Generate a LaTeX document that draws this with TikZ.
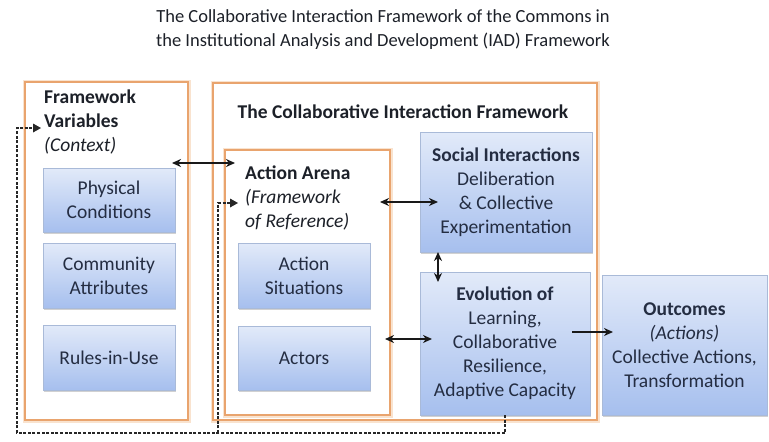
\documentclass[tikz,border=0pt]{standalone}
\usepackage{fontspec}
\setmainfont{Carlito}
\usetikzlibrary{arrows.meta,calc}
\definecolor{orline}{HTML}{E9A46E}
\definecolor{orglow}{HTML}{F9E3CF}
\definecolor{bltop}{HTML}{E2EAF9}
\definecolor{blbot}{HTML}{A6BFEE}
\definecolor{blline}{HTML}{A9BAD8}
\definecolor{txt}{HTML}{1C2028}
\definecolor{btxt}{HTML}{242D42}
\tikzset{
  x=1pt,y=-1pt,
  orbox/.style={draw=orline,line width=1.4pt,fill=white,inner sep=0pt,
    preaction={draw=orglow,line width=5pt}},
  blbox/.style={draw=blline,line width=0.8pt,top color=bltop,bottom color=blbot,
    inner sep=2pt,align=center,text=btxt,font=\fontsize{19.5}{24}\selectfont,
    preaction={fill=black!18,transform canvas={xshift=1.2pt,yshift=-1.5pt}}},
  hd/.style={font=\fontsize{19.5}{24}\selectfont,text=txt,align=left,inner sep=0pt},
  conn/.style={line width=2.2pt,draw=black!90,{Stealth[length=9pt,width=8pt]}-{Stealth[length=9pt,width=8pt]}},
  conn1/.style={line width=2.2pt,draw=black!90,-{Stealth[length=9pt,width=8pt]}},
  dashline/.style={line width=2.6pt,dash pattern=on 3pt off 1.6pt,draw=black!85},
}
\begin{document}
\begin{tikzpicture}
\useasboundingbox (0,0) rectangle (769,442);
% title
\node[font=\fontsize{18.5}{24}\selectfont,text=txt,align=center,inner sep=0pt] (title) at (383,30)
  {The Collaborative Interaction Framework of the Commons in\\the Institutional Analysis and Development (IAD) Framework};
% orange boxes
\node[orbox,minimum width=163,minimum height=338] (fv) at (106.5,251) {};
\node[orbox,minimum width=384,minimum height=337] (cif) at (405,251.5) {};
\node[orbox,minimum width=165,minimum height=265] (aa) at (307.5,282.5) {};
% headings
\node[hd,anchor=north west] (fvt) at (44,90) {\textbf{Framework}\\\textbf{Variables}\\\textit{(Context)}};
\node[hd,anchor=center] (cift) at (403,112) {\textbf{The Collaborative Interaction Framework}};
\node[hd,anchor=north west] (aat) at (245,166) {\textbf{Action Arena}\\\textit{(Framework}\\\textit{of Reference)}};
% blue boxes
\node[blbox,minimum width=132,minimum height=64] (pc) at (109,200) {Physical\\Conditions};
\node[blbox,minimum width=132,minimum height=65] (ca) at (109,275.5) {Community\\Attributes};
\node[blbox,minimum width=132,minimum height=65] (ru) at (109,357.5) {Rules-in-Use};
\node[blbox,minimum width=132,minimum height=65] (as) at (304,275.5) {Action\\Situations};
\node[blbox,minimum width=132,minimum height=64] (ac) at (304,358) {Actors};
\node[blbox,minimum width=172,minimum height=120] (si) at (506,192) {\textbf{Social Interactions}\\Deliberation\\\&~Collective\\Experimentation};
\node[blbox,minimum width=170,minimum height=143] (ev) at (505,343.5) {\textbf{Evolution of}\\Learning,\\Collaborative\\Resilience,\\Adaptive Capacity};
\node[blbox,minimum width=165,minimum height=140] (oc) at (684.5,345) {\textbf{Outcomes}\\\textit{(Actions)}\\Collective Actions,\\Transformation};
% connector end points
\coordinate (a1) at (172,163);
\coordinate (a2) at (235,163);
\coordinate (b1) at (380,202);
\coordinate (b2) at (438,202);
\coordinate (c1) at (438,252);
\coordinate (c2) at (438,282);
\coordinate (d1) at (385,339);
\coordinate (d2) at (432,339);
\coordinate (e1) at (572,332);
\coordinate (e2) at (613,332);
\draw[conn] (a1) -- (a2);
\draw[conn] (b1) -- (b2);
\draw[conn] (c1) -- (c2);
\draw[conn] (d1) -- (d2);
\draw[conn1] (e1) -- (e2);
% dashed feedback
\coordinate (f0) at (505,415);
\coordinate (f1) at (505,433);
\coordinate (f2) at (17,433);
\coordinate (f3) at (17,128);
\coordinate (f4) at (34,128);
\coordinate (g1) at (218,433);
\coordinate (g2) at (218,203);
\coordinate (g3) at (231,203);
\draw[dashline] (f0) -- (f1) -- (f2) -- (f3) -- (f4);
\draw[dashline] (g1) -- (g2) -- (g3);
\fill[black!85] (f4) ++(-1,-4.5) -- ++(8,4.5) -- ++(-8,4.5) -- cycle;
\fill[black!85] (g3) ++(-1,-4.5) -- ++(8,4.5) -- ++(-8,4.5) -- cycle;
\end{tikzpicture}
\end{document}
